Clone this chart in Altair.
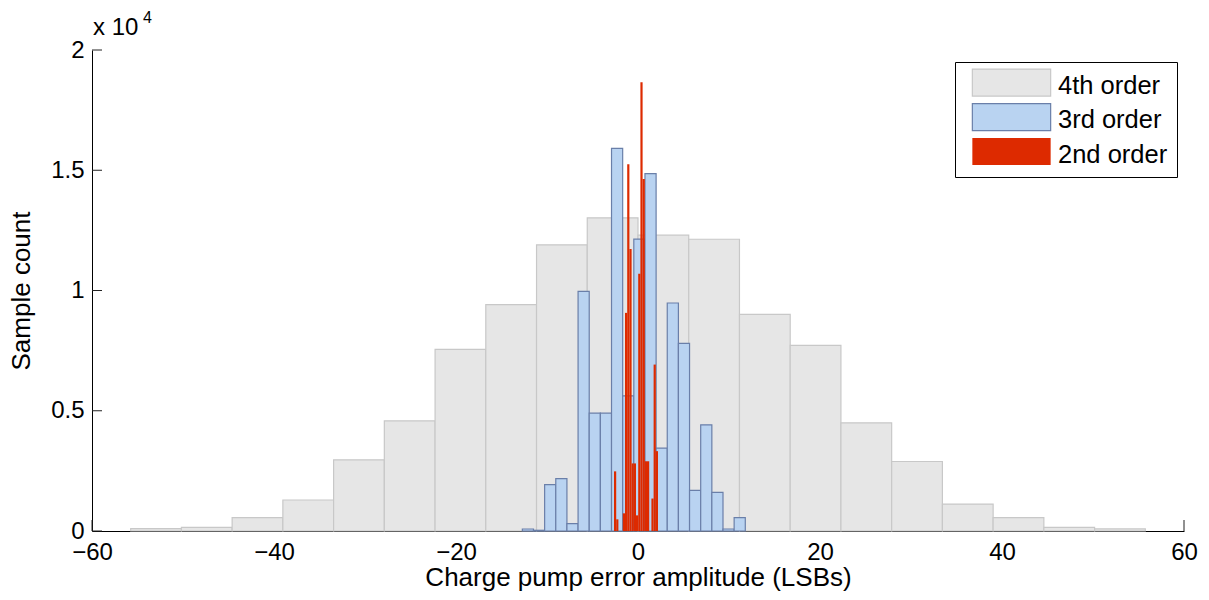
import altair as alt
import pandas as pd

series_names = ["4th order", "3rd order", "2nd order"]
fill_colors = ["#e6e6e6", "#b9d3f1", "#dd2a00"]
stroke_colors = ["#c8c8c8", "#6a7fa9", "transparent"]

# 4th order histogram (20 equal bins)
gray_bin_start = -55.75
gray_bin_width = 5.575
gray_counts = [100, 150, 556, 1290, 2960, 4580, 7550, 9410, 11900, 13020,
               12300, 12130, 9005, 7720, 4500, 2890, 1120, 556, 150, 85]

# 3rd order histogram (20 equal bins)
blue_bin_start = -12.71
blue_bin_width = 1.225
blue_counts = [83, 30, 1925, 2175, 307, 9960, 4900, 4900, 15910, 5620,
               12135, 14860, 3445, 9480, 7800, 1690, 4415, 1605, 83, 556]

# 2nd order histogram (20 equal bins)
red_bin_start = -2.637
red_bin_width = 0.2418
red_counts = [2480, 485, 0, 0, 735, 9070, 15250, 11730, 2810, 2810,
              650, 10700, 18660, 14640, 2900, 2900, 0, 1350, 6920, 3320]

x_tick_values = [-60, -40, -20, 0, 20, 40, 60]
y_tick_values = [0, 5000, 10000, 15000, 20000]
exponent_base = "x 10"
exponent_power = "4"

rows = []
for name, start, width, counts in [
    (series_names[0], gray_bin_start, gray_bin_width, gray_counts),
    (series_names[1], blue_bin_start, blue_bin_width, blue_counts),
    (series_names[2], red_bin_start, red_bin_width, red_counts),
]:
    for i, c in enumerate(counts):
        rows.append({"series": name, "x0": start + i * width,
                     "x1": start + (i + 1) * width, "count": c})
df = pd.DataFrame(rows)

FONT = "Liberation Sans"

xscale = alt.Scale(domain=[-60, 60], nice=False, zero=False)
yscale = alt.Scale(domain=[0, 20000], nice=False)

xaxis = alt.Axis(values=x_tick_values, title="Charge pump error amplitude (LSBs)",
                 labelPadding=9, titlePadding=0, labelFlush=False)
yaxis = alt.Axis(values=y_tick_values, title="Sample count",
                 labelExpr="'' + datum.value / 10000", labelPadding=8,
                 titlePadding=16, labelFlush=False)

legend = alt.Legend(
    title=None, orient="none", legendX=863, legendY=12,
    symbolType="M-2.9,-1.22H2.9V0.78H-2.9Z", symbolSize=729,
    symbolStrokeWidth=1.2, symbolOpacity=1,
    labelFont=FONT, labelFontSize=25.5, labelColor="black",
    padding=9, rowPadding=1.5, labelOffset=32, symbolOffset=33,
    strokeColor="black", fillColor="white", cornerRadius=0,
)

xticks = alt.Chart(pd.DataFrame({"v": x_tick_values})).mark_rule(
    color="#222222", strokeWidth=1
).encode(
    x=alt.X("v:Q", scale=xscale, axis=xaxis),
    y=alt.value(481), y2=alt.value(470),
)

bars = alt.Chart(df).mark_rect(strokeWidth=1.2).encode(
    x=alt.X("x0:Q", scale=xscale, axis=xaxis),
    x2="x1:Q",
    y=alt.Y("count:Q", scale=yscale, axis=yaxis),
    y2=alt.datum(0),
    fill=alt.Fill("series:N", scale=alt.Scale(domain=series_names, range=fill_colors), legend=legend),
    stroke=alt.Stroke("series:N", scale=alt.Scale(domain=series_names, range=stroke_colors), legend=legend),
)

yticks = alt.Chart(pd.DataFrame({"v": y_tick_values})).mark_rule(
    color="#222222", strokeWidth=1
).encode(
    y=alt.Y("v:Q", scale=yscale, axis=yaxis),
    x=alt.value(0), x2=alt.value(10),
)

exp_base = alt.Chart(pd.DataFrame({"t": [exponent_base]})).mark_text(
    font=FONT, fontSize=24, color="black", align="left", baseline="alphabetic"
).encode(text="t:N", x=alt.value(1), y=alt.value(-15))

exp_pow = alt.Chart(pd.DataFrame({"t": [exponent_power]})).mark_text(
    font=FONT, fontSize=16, color="black", align="left", baseline="alphabetic"
).encode(text="t:N", x=alt.value(51), y=alt.value(-27))

chart = alt.layer(xticks, bars, yticks, exp_base, exp_pow).properties(
    width=1092, height=481,
    autosize=alt.AutoSizeParams(type="none"),
    padding={"left": 84, "top": 42, "right": 17, "bottom": 61},
).configure_view(stroke=None).configure_axis(
    domainColor="black", domainWidth=1, tickSize=0, grid=False,
    labelFont=FONT, labelFontSize=24, labelColor="black",
    titleFont=FONT, titleFontSize=26, titleColor="black", titleFontWeight="normal",
)

chart.save("out.html", embed_options={"renderer": "svg", "actions": False})
